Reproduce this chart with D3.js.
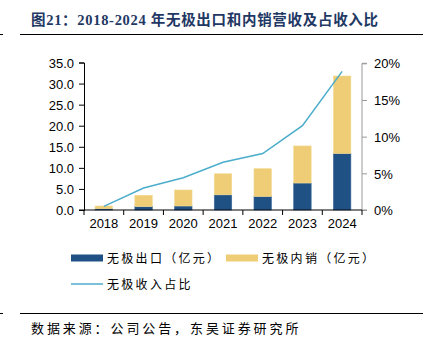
<!DOCTYPE html>
<html>
<head>
<meta charset="utf-8">
<script src="https://cdn.jsdelivr.net/npm/d3@7"></script>
<style>
  body { margin: 0; background: #fff; }
  svg { display: block; }
  .axis text { font-family: "Liberation Sans", Arial, sans-serif; font-size: 13px; fill: #000; }
  .cn { font-family: "Liberation Serif", "Noto Sans CJK SC", serif; }
</style>
</head>
<body>
<svg></svg>
<script>
var years = ["2018", "2019", "2020", "2021", "2022", "2023", "2024"];
var exportRev = [0.3, 0.8, 0.95, 3.6, 3.2, 6.4, 13.4];
var domesticRev = [0.65, 2.7, 3.8, 5.0, 6.6, 8.8, 18.4];
var shareRatio = [0.005, 0.030, 0.044, 0.065, 0.077, 0.115, 0.189];
var leftTicks = [0, 5, 10, 15, 20, 25, 30, 35];
var rightTicks = [0, 0.05, 0.10, 0.15, 0.20];

var screen = {width: 427, height: 343};
var plot = {left: 84, right: 362, top: 62.5, bottom: 210};

var colors = {exp: "#1f5185", dom: "#eecd76", line: "#4badcb", title: "#1f3864"};

var svg = d3.select("svg")
    .attr("width", screen.width)
    .attr("height", screen.height);

// title
svg.append("text")
    .attr("class", "cn")
    .attr("x", 31)
    .attr("y", 25)
    .attr("fill", colors.title)
    .attr("font-size", 14.5)
    .attr("font-weight", "bold")
    .attr("letter-spacing", 0.7)
    .text("图21：2018-2024 年无极出口和内销营收及占收入比");

svg.append("line")
    .attr("x1", 20).attr("x2", 423)
    .attr("y1", 34.5).attr("y2", 34.5)
    .attr("stroke", "#000").attr("stroke-width", 1.2);
svg.append("line")
    .attr("x1", 0).attr("x2", 3)
    .attr("y1", 34.5).attr("y2", 34.5)
    .attr("stroke", "#000").attr("stroke-width", 1);

var xScale = d3.scaleBand()
    .domain(years)
    .range([plot.left, plot.right])
    .paddingInner(0.56)
    .paddingOuter(0.28);

var yScale = d3.scaleLinear()
    .domain([0, 35])
    .range([plot.bottom, plot.top]);

var y2Scale = d3.scaleLinear()
    .domain([0, 0.20])
    .range([plot.bottom, plot.top + 0.8]);

// bars
var bars = svg.append("g").attr("id", "bars");
years.forEach(function(yr, i){
    var x = xScale(yr);
    var w = xScale.bandwidth();
    bars.append("rect")
        .attr("x", x)
        .attr("width", w)
        .attr("y", yScale(exportRev[i]))
        .attr("height", yScale(0) - yScale(exportRev[i]))
        .attr("fill", colors.exp)
        .attr("stroke", "#3d6a99").attr("stroke-width", 0.6);
    bars.append("rect")
        .attr("x", x)
        .attr("width", w)
        .attr("y", yScale(exportRev[i] + domesticRev[i]))
        .attr("height", yScale(exportRev[i]) - yScale(exportRev[i] + domesticRev[i]))
        .attr("fill", colors.dom)
        .attr("stroke", "#f3da94").attr("stroke-width", 0.6);
});

// left axis
var yAxis = d3.axisLeft(yScale)
    .tickValues(leftTicks)
    .tickSize(5)
    .tickFormat(d3.format(".1f"));
var gy = svg.append("g")
    .attr("class", "axis")
    .attr("transform", "translate(" + plot.left + ",0)")
    .call(yAxis);
gy.select(".domain").attr("stroke", "#000");
gy.selectAll(".tick line").attr("stroke", "#000");
gy.selectAll("text").attr("x", -10).attr("dy", "0.36em");

// right axis
var y2Axis = d3.axisRight(y2Scale)
    .tickValues(rightTicks)
    .tickSize(5)
    .tickFormat(d3.format(".0%"));
var gy2 = svg.append("g")
    .attr("class", "axis")
    .attr("transform", "translate(" + plot.right + ",0)")
    .call(y2Axis);
gy2.select(".domain").attr("stroke", "#999").attr("d", "M5," + y2Scale(0.2) + "H0V" + plot.bottom + "H5");
gy2.selectAll(".tick line").attr("stroke", "#999");
gy2.selectAll("text").attr("x", 12).attr("dy", "0.36em");

// x axis
var xAxis = d3.axisBottom(xScale).tickSize(0).tickPadding(9);
var gx = svg.append("g")
    .attr("class", "axis")
    .attr("transform", "translate(0," + plot.bottom + ")")
    .call(xAxis);
gx.select(".domain").attr("stroke", "#000").attr("d", "M" + (plot.left - 5) + ",0H" + plot.right);
var step = xScale.step();
var bounds = d3.range(years.length + 1).map(function(i){ return plot.left + i * step; });
gx.selectAll(".bound")
    .data(bounds)
    .enter()
    .append("line")
    .attr("class", "bound")
    .attr("x1", function(d){ return d; })
    .attr("x2", function(d){ return d; })
    .attr("y1", 0).attr("y2", 5)
    .attr("stroke", "#000");

// line
svg.append("path")
    .datum(shareRatio)
    .attr("fill", "none")
    .attr("stroke", colors.line)
    .attr("stroke-width", 1.5)
    .attr("d", d3.line()
        .x(function(d, i){ return xScale(years[i]) + xScale.bandwidth() / 2; })
        .y(function(d){ return y2Scale(d); }));

// legend
var legend = svg.append("g").attr("id", "legend");
var legItems = [
    {name: "无极出口（亿元）", color: colors.exp, type: "rect", x: 71, y: 258},
    {name: "无极内销（亿元）", color: colors.dom, type: "rect", x: 226, y: 258},
    {name: "无极收入占比", color: colors.line, type: "line", x: 71, y: 284}
];
legItems.forEach(function(it){
    if (it.type == "rect") {
        legend.append("rect")
            .attr("x", it.x).attr("y", it.y - 3.5)
            .attr("width", 32).attr("height", 7)
            .attr("fill", it.color);
    } else {
        legend.append("line")
            .attr("x1", it.x).attr("x2", it.x + 32)
            .attr("y1", it.y).attr("y2", it.y)
            .attr("stroke", it.color).attr("stroke-width", 1.5);
    }
    legend.append("text")
        .attr("class", "cn")
        .attr("x", it.x + 36)
        .attr("y", it.y + 4.5)
        .attr("font-size", 12)
        .attr("letter-spacing", 2.3)
        .attr("fill", "#000")
        .text(it.name);
});

// footer
svg.append("line")
    .attr("x1", 20).attr("x2", 423)
    .attr("y1", 313.5).attr("y2", 313.5)
    .attr("stroke", "#000").attr("stroke-width", 1.2);
svg.append("line")
    .attr("x1", 0).attr("x2", 3)
    .attr("y1", 313.5).attr("y2", 313.5)
    .attr("stroke", "#000").attr("stroke-width", 1);
svg.append("text")
    .attr("class", "cn")
    .attr("x", 31)
    .attr("y", 333)
    .attr("font-size", 13)
    .attr("letter-spacing", 2.9)
    .attr("fill", "#000")
    .text("数据来源：公司公告，东吴证券研究所");
</script>
</body>
</html>
